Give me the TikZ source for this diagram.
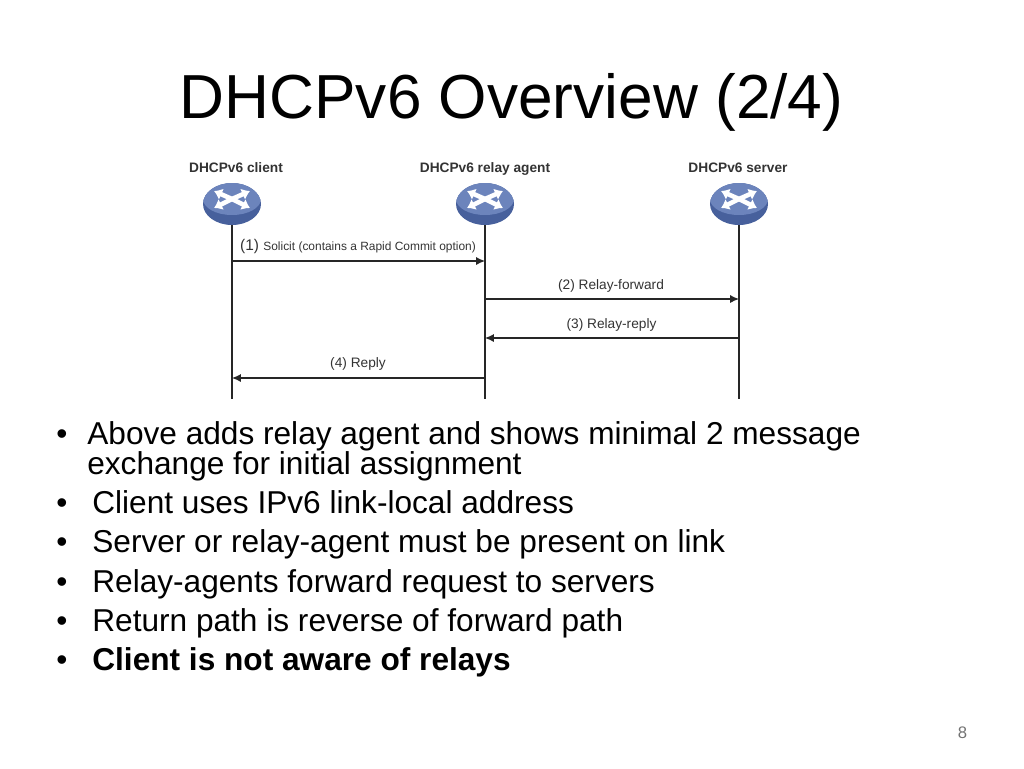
\documentclass[tikz,border=0pt]{standalone}
\usepackage{fontspec}
\setmainfont{Liberation Sans}
\usetikzlibrary{shapes.geometric,arrows.meta}
\definecolor{routertop}{HTML}{6C84BC}
\definecolor{routerside}{HTML}{47609C}
\definecolor{labelgray}{HTML}{333333}
\tikzset{
	routerarrow/.style={white, line width=2.6pt, -{Latex[length=4.5pt,width=7pt]}},
	router/.style={shape=ellipse, inner sep=0pt, minimum width=1.16cm, minimum height=.84cm, fill=routerside,
		path picture={
			\begin{scope}[shift={(path picture bounding box.center)}]
				\fill[routertop] (0,-5) ellipse (29 and 16);
				\draw[routerarrow] (0,-5) -- (-18,-13);
				\draw[routerarrow] (0,-5) -- (18,-13);
				\draw[routerarrow] (0,-5) -- (-18,4);
				\draw[routerarrow] (0,-5) -- (18,4);
			\end{scope}
		}},
	lifeline/.style={line width=1.1pt, black!85},
	message/.style={line width=.65pt, black!85, -{Latex[length=5pt,width=4.5pt]}},
	steplabel/.style={font=\fontsize{7.8}{9}\selectfont, text=labelgray, inner sep=0pt, anchor=base},
	rolelabel/.style={font=\bfseries\fontsize{7.8}{9}\selectfont, text=labelgray, inner sep=0pt, anchor=base},
	bodytext/.style={font=\fontsize{18}{17}\selectfont, anchor=base west, inner sep=0pt},
	bulletmark/.style={font=\fontsize{18}{17}\selectfont, anchor=base, inner sep=0pt}
}
\begin{document}
\begin{tikzpicture}[x=.02cm,y=-.02cm]
	\useasboundingbox (0,0) rectangle (1024,768);
	\node[font=\fontsize{35.4}{40}\selectfont, inner sep=0pt, anchor=base] (title) at (511.5,118.5) {DHCPv6 Overview (2/4)};

	\node[rolelabel] (clientname) at (236,172.5) {DHCPv6 client};
	\node[rolelabel] (relayname) at (485,172.5) {DHCPv6 relay agent};
	\node[rolelabel] (servername) at (738,172.5) {DHCPv6 server};
	\node[router] (client) at (232,204) {};
	\node[router] (relay) at (485,204) {};
	\node[router] (server) at (739,204) {};

	\coordinate (clientend) at (232,399);
	\coordinate (relayend) at (485,399);
	\coordinate (serverend) at (739,399);
	\draw[lifeline] (client) -- (clientend);
	\draw[lifeline] (relay) -- (relayend);
	\draw[lifeline] (server) -- (serverend);

	\coordinate (m1a) at (232,261);
	\coordinate (m1b) at (485,261);
	\coordinate (m2a) at (485,299);
	\coordinate (m2b) at (739,299);
	\coordinate (m3a) at (739,338);
	\coordinate (m3b) at (485,338);
	\coordinate (m4a) at (485,378);
	\coordinate (m4b) at (232,378);
	\draw[message] (m1a) -- (m1b);
	\draw[message] (m2a) -- (m2b);
	\draw[message] (m3a) -- (m3b);
	\draw[message] (m4a) -- (m4b);

	\node[steplabel] (m1label) at (358,250) {\fontsize{8.8}{9}\selectfont(1) \fontsize{6.8}{9}\selectfont Solicit (contains a Rapid Commit option)};
	\node[steplabel] (m2label) at (611,289) {(2) Relay-forward};
	\node[steplabel] (m3label) at (611.5,328) {(3) Relay-reply};
	\node[steplabel] (m4label) at (358,367) {(4) Reply};

	\node[bulletmark] (b1) at (62,444.5) {•};
	\node[bodytext, align=left, anchor=north west] (t1) at (87,421) {Above adds relay agent and shows minimal 2 message\\exchange for initial assignment};
	\node[bulletmark] (b2) at (62,513.5) {•};
	\node[bodytext] (t2) at (92,513.5) {Client uses IPv6 link-local address};
	\node[bulletmark] (b3) at (62,552.5) {•};
	\node[bodytext] (t3) at (92,552.5) {Server or relay-agent must be present on link};
	\node[bulletmark] (b4) at (62,592) {•};
	\node[bodytext] (t4) at (92,592) {Relay-agents forward request to servers};
	\node[bulletmark] (b5) at (62,631) {•};
	\node[bodytext] (t5) at (92,631) {Return path is reverse of forward path};
	\node[bulletmark] (b6) at (62,670) {•};
	\node[bodytext, font=\bfseries\fontsize{18}{17}\selectfont] (t6) at (92,670) {Client is not aware of relays};

	\node[font=\fontsize{9.5}{11}\selectfont, text=black!55, inner sep=0pt] (pagenum) at (962.5,733) {8};
\end{tikzpicture}
\end{document}
